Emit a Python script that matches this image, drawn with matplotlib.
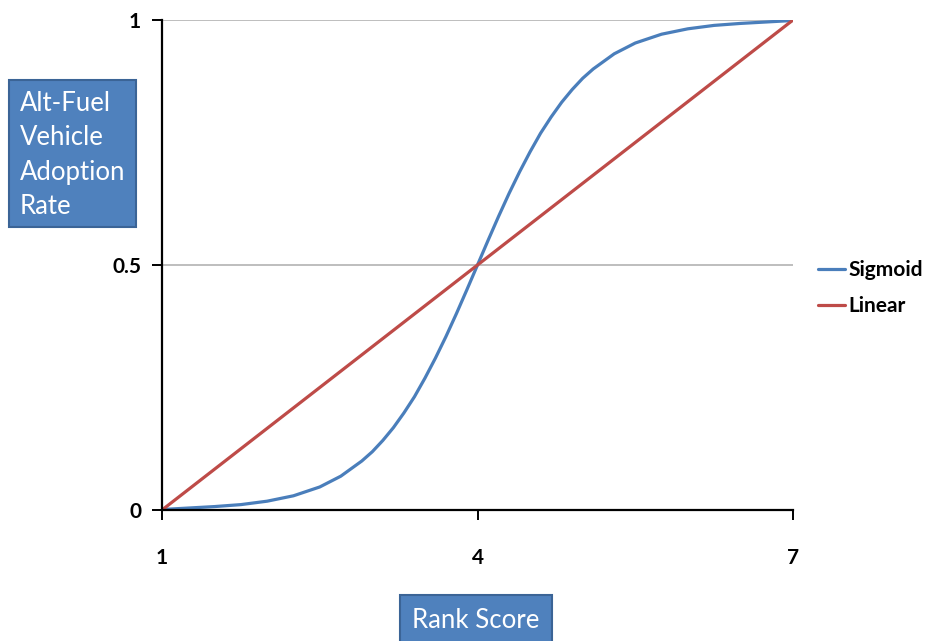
import matplotlib.pyplot as plt
from matplotlib.patches import Rectangle

# values
rank = [1.0, 1.25, 1.5, 1.75, 2.0, 2.25, 2.5, 2.7, 2.9, 3.0, 3.1, 3.2, 3.3, 3.4,
        3.5, 3.6, 3.7, 3.8, 3.9, 4.0, 4.1, 4.2, 4.3, 4.4, 4.5, 4.6, 4.7, 4.8,
        4.9, 5.0, 5.1, 5.3, 5.5, 5.75, 6.0, 6.25, 6.5, 6.75, 7.0]
sigmoid = [0.001, 0.004, 0.007, 0.011, 0.018, 0.029, 0.047, 0.069, 0.100, 0.119,
           0.142, 0.168, 0.198, 0.231, 0.269, 0.310, 0.354, 0.401, 0.450, 0.500,
           0.550, 0.599, 0.646, 0.690, 0.731, 0.769, 0.802, 0.832, 0.858, 0.881,
           0.900, 0.931, 0.953, 0.971, 0.982, 0.989, 0.993, 0.996, 0.999]
linear_x = [1, 7]
linear_y = [0, 1]
xticks = [1, 4, 7]
yticks = [0, 0.5, 1]
ytick_labels = ['0', '0.5', '1']

plt.rcParams['font.family'] = ['Lato', 'DejaVu Sans']

fig = plt.figure(figsize=(9.36, 6.41), dpi=100)
ax = fig.add_axes([162 / 936, 1 - 510 / 641, 631 / 936, 490 / 641])

ax.plot(rank, sigmoid, color='#4A7EBB', lw=2.3, label='Sigmoid',
        solid_capstyle='round', solid_joinstyle='round')
ax.plot(linear_x, linear_y, color='#BE4B48', lw=2.3, label='Linear', solid_capstyle='round')

ax.set_xlim(1, 7)
ax.set_ylim(0, 1)
ax.set_xticks(xticks)
ax.set_xticklabels([str(t) for t in xticks])
ax.set_yticks(yticks)
ax.set_yticklabels(ytick_labels)
for y in yticks[1:]:
    ax.axhline(y, color='#b3b3b3', lw=1.2, zorder=0)

for s in ['top', 'right']:
    ax.spines[s].set_visible(False)
for s in ['left', 'bottom']:
    ax.spines[s].set_linewidth(1.6)
    ax.spines[s].set_color('black')
ax.tick_params(axis='both', direction='out', length=7, width=1.4, labelsize=15)
ax.tick_params(axis='x', pad=20)
ax.tick_params(axis='y', pad=8)
for lab in ax.get_xticklabels() + ax.get_yticklabels():
    lab.set_fontweight('bold')

leg = ax.legend(loc='center left', bbox_to_anchor=(818 / 936, 1 - 288 / 641),
                bbox_transform=fig.transFigure, frameon=False, fontsize=15,
                handlelength=1.3, handletextpad=0.15, labelspacing=0.75,
                borderpad=0, borderaxespad=0)
for t in leg.get_texts():
    t.set_fontweight('bold')

# y-axis title box
fig.patches.append(Rectangle((9 / 936, 1 - 227 / 641), 127 / 936, 147 / 641,
                             transform=fig.transFigure, facecolor='#4F81BD',
                             edgecolor='#3B6496', lw=1.5))
fig.text(20 / 936, 1 - 155 / 641, 'Alt-Fuel\nVehicle\nAdoption\nRate',
         color='white', fontsize=18.5, va='center', ha='left', linespacing=1.48)

# x-axis title box
fig.patches.append(Rectangle((400 / 936, -0.01), 152 / 936, 46 / 641 + 0.01,
                             transform=fig.transFigure, facecolor='#4F81BD',
                             edgecolor='#3B6496', lw=1.5))
fig.text(476 / 936, 1 - 620 / 641, 'Rank Score', color='white', fontsize=18.5,
         va='center', ha='center')

fig.savefig('out.png', dpi=100)
